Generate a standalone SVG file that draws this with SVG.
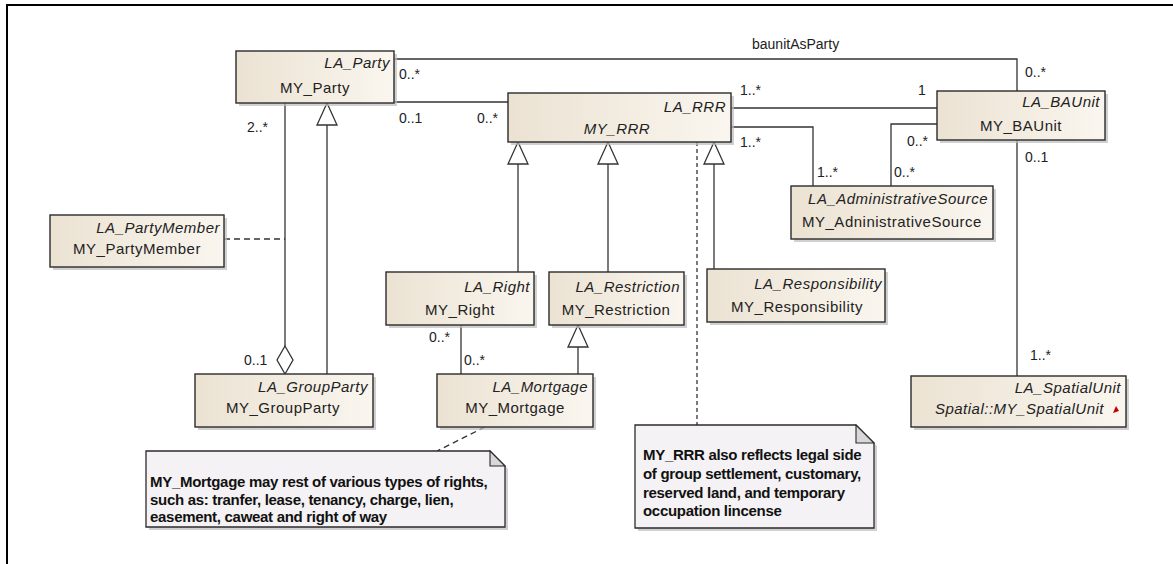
<svg xmlns="http://www.w3.org/2000/svg" width="1173" height="564" viewBox="0 0 1173 564">
<defs>
<linearGradient id="g" x1="0" y1="0" x2="1" y2="0">
<stop offset="0" stop-color="#ebe2d2"/>
<stop offset="1" stop-color="#faf6ef"/>
</linearGradient>
<style>
.sh{fill:#bcbcbc;opacity:.7}
.box{fill:url(#g);stroke:#2b2b2b;stroke-width:1.4}
.la{font-family:"Liberation Sans",Arial,sans-serif;font-style:italic;font-size:15px;text-anchor:end;letter-spacing:.5px;fill:#222}
.my{font-family:"Liberation Sans",Arial,sans-serif;font-size:15px;text-anchor:middle;letter-spacing:.5px;fill:#222}
.lbl{font-family:"Liberation Sans",Arial,sans-serif;font-size:14px;fill:#222}
.c{stroke:#333;stroke-width:1.3;fill:none}
.d{stroke:#333;stroke-width:1.3;fill:none;stroke-dasharray:6 4}
.dt{stroke:#333;stroke-width:1.3;fill:none;stroke-dasharray:4 3}
.tri{fill:#fff;stroke:#333;stroke-width:1.3}
.note{fill:#f4f2f4;stroke:#2b2b2b;stroke-width:1.3}
.fold{fill:#d8d8d8;stroke:#2b2b2b;stroke-width:1.1}
.nt{font-family:"Liberation Sans",Arial,sans-serif;font-weight:bold;font-size:15px;fill:#111;letter-spacing:-.3px}
</style>
</defs>
<rect width="1173" height="564" fill="#fff"/>
<g id="frame"><path d="M7,564 V5 H1173" fill="none" stroke="#000" stroke-width="2"/></g>

<g id="connectors">
<polyline class="c" points="394,59 1017,59 1017,91"/>
<line class="c" x1="394" y1="102" x2="508" y2="102"/>
<line class="c" x1="731" y1="108" x2="937" y2="108"/>
<polyline class="c" points="731,127 813,127 813,186"/>
<polyline class="c" points="937,124 891,124 891,186"/>
<line class="c" x1="1017" y1="140" x2="1017" y2="376"/>
<line class="c" x1="285" y1="103" x2="285" y2="346"/>
<polygon class="tri" points="285,346 293,360 285,374 277,360"/>
<line class="c" x1="327" y1="374" x2="327" y2="125"/>
<polygon class="tri" points="327,103 337,125 317,125"/>
<line class="d" x1="224" y1="239" x2="285" y2="239"/>
<line class="c" x1="518" y1="272" x2="518" y2="164"/>
<polygon class="tri" points="518,142 528,164 508,164"/>
<line class="c" x1="608" y1="272" x2="608" y2="164"/>
<polygon class="tri" points="608,142 618,164 598,164"/>
<line class="c" x1="714" y1="269" x2="714" y2="164"/>
<polygon class="tri" points="714,142 724,164 704,164"/>
<line class="c" x1="461" y1="325" x2="461" y2="374"/>
<line class="c" x1="578" y1="374" x2="578" y2="347"/>
<polygon class="tri" points="578,325 588,347 568,347"/>
<line class="dt" x1="697" y1="142" x2="697" y2="425"/>
<line class="d" x1="485" y1="427" x2="437" y2="451"/>
<text class="lbl" x="752" y="49">baunitAsParty</text>
<text class="lbl" x="399" y="79">0..*</text>
<text class="lbl" x="399" y="123">0..1</text>
<text class="lbl" x="477" y="123">0..*</text>
<text class="lbl" x="247" y="132">2..*</text>
<text class="lbl" x="740" y="95">1..*</text>
<text class="lbl" x="740" y="147">1..*</text>
<text class="lbl" x="918" y="95">1</text>
<text class="lbl" x="1025" y="77">0..*</text>
<text class="lbl" x="907" y="146">0..*</text>
<text class="lbl" x="1025" y="162">0..1</text>
<text class="lbl" x="817" y="177">1..*</text>
<text class="lbl" x="894" y="177">0..*</text>
<text class="lbl" x="244" y="365">0..1</text>
<text class="lbl" x="429" y="342">0..*</text>
<text class="lbl" x="464" y="365">0..*</text>
<text class="lbl" x="1030" y="360">1..*</text>
</g>

<g id="LA_Party"><rect class="sh" x="239" y="54" width="158" height="52"/><rect class="box" x="236" y="51" width="158" height="52"/><text class="la" x="390" y="68">LA_Party</text><text class="my" x="315" y="93">MY_Party</text></g>
<g id="LA_RRR"><rect class="sh" x="511" y="96" width="223" height="49"/><rect class="box" x="508" y="93" width="223" height="49"/><text class="la" x="726" y="112">LA_RRR</text><text class="my" x="617" y="134" font-style="italic">MY_RRR</text></g>
<g id="LA_BAUnit"><rect class="sh" x="940" y="94" width="168" height="49"/><rect class="box" x="937" y="91" width="168" height="49"/><text class="la" x="1100" y="107">LA_BAUnit</text><text class="my" x="1021" y="131">MY_BAUnit</text></g>
<g id="LA_AdministrativeSource"><rect class="sh" x="794" y="189" width="202" height="53"/><rect class="box" x="791" y="186" width="202" height="53"/><text class="la" x="988" y="204">LA_AdministrativeSource</text><text class="my" x="892" y="227">MY_AdninistrativeSource</text></g>
<g id="LA_PartyMember"><rect class="sh" x="53" y="218" width="174" height="52"/><rect class="box" x="50" y="215" width="174" height="52"/><text class="la" x="220" y="233">LA_PartyMember</text><text class="my" x="137" y="254">MY_PartyMember</text></g>
<g id="LA_Right"><rect class="sh" x="389" y="275" width="148" height="53"/><rect class="box" x="386" y="272" width="148" height="53"/><text class="la" x="530" y="292">LA_Right</text><text class="my" x="460" y="315">MY_Right</text></g>
<g id="LA_Restriction"><rect class="sh" x="552" y="275" width="135" height="53"/><rect class="box" x="549" y="272" width="135" height="53"/><text class="la" x="680" y="292">LA_Restriction</text><text class="my" x="616" y="315">MY_Restriction</text></g>
<g id="LA_Responsibility"><rect class="sh" x="710" y="272" width="178" height="53"/><rect class="box" x="707" y="269" width="178" height="53"/><text class="la" x="882" y="289">LA_Responsibility</text><text class="my" x="797" y="312">MY_Responsibility</text></g>
<g id="LA_GroupParty"><rect class="sh" x="198" y="377" width="178" height="53"/><rect class="box" x="195" y="374" width="178" height="53"/><text class="la" x="368" y="392">LA_GroupParty</text><text class="my" x="283" y="413">MY_GroupParty</text></g>
<g id="LA_Mortgage"><rect class="sh" x="440" y="377" width="156" height="53"/><rect class="box" x="437" y="374" width="156" height="53"/><text class="la" x="588" y="392">LA_Mortgage</text><text class="my" x="515" y="413">MY_Mortgage</text></g>
<g id="LA_SpatialUnit"><rect class="sh" x="914" y="379" width="215" height="51"/><rect class="box" x="911" y="376" width="215" height="51"/><text class="la" x="1121" y="393">LA_SpatialUnit</text><text class="la" x="1104" y="414">Spatial::MY_SpatialUnit</text><path d="M1113,413 l3,-7 l3,5 z" fill="#c00000"/></g>

<g id="note_mortgage"><path class="sh" d="M149,454 H493 L508,469 V530 H149 Z"/><path class="note" d="M146,451 H490 L505,466 V527 H146 Z"/><path class="fold" d="M490,451 V466 H505 Z"/>
<text class="nt" x="150" y="487">MY_Mortgage may rest of various types of rights,</text>
<text class="nt" x="150" y="505">such as: tranfer, lease, tenancy, charge, lien,</text>
<text class="nt" x="150" y="522">easement, caweat and right of way</text></g>
<g id="note_rrr"><path class="sh" d="M638,428 H859 L877,446 V531 H638 Z"/><path class="note" d="M635,425 H856 L874,443 V528 H635 Z"/><path class="fold" d="M856,425 V443 H874 Z"/>
<text class="nt" x="643" y="460">MY_RRR also reflects legal side</text>
<text class="nt" x="643" y="479">of group settlement, customary,</text>
<text class="nt" x="643" y="498">reserved land, and temporary</text>
<text class="nt" x="643" y="516">occupation lincense</text></g>
</svg>
